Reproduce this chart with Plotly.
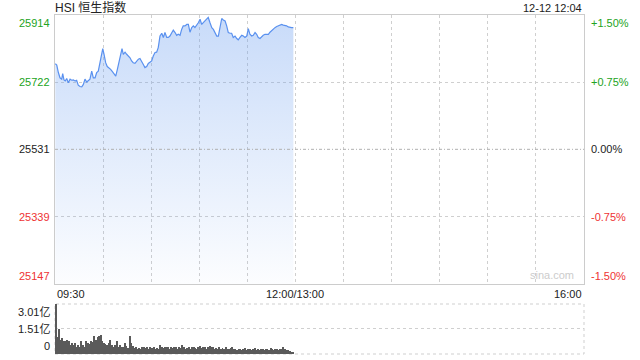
import plotly.graph_objects as go

# ---- data ----
price_min = [0.2,1.1,2.1,3.1,4.2,4.8,5.6,6.4,7.3,8.3,9.4,10.4,11.4,12.5,13.5,14.5,15.6,16.7,17.7,18.7,
             19.8,20.8,21.8,22.9,23.9,25.0,26.0,27.0,28.1,29.1,29.8,30.6,31.6,32.6,33.7,34.7,35.7,36.8,37.9,38.9,
             39.9,41.0,41.8,42.6,43.7,44.7,45.7,46.8,47.8,48.8,49.9,51.0,52.0,53.0,54.1,55.1,56.1,57.2,58.2,59.3,
             60.3,61.3,62.4,63.4,64.4,65.5,66.6,67.6,68.6,69.7,70.7,71.7,72.8,73.8,74.9,75.9,76.9,78.0,79.0,80.0,
             81.1,82.2,83.2,84.2,85.3,86.3,87.3,88.4,89.4,90.5,91.5,92.5,93.6,94.6,95.6,96.7,97.8,98.8,99.8,100.9,
             101.9,102.9,104.0,105.0,106.1,107.1,108.1,109.2,110.2,111.2,112.3,113.4,114.3,115.4,116.5,117.5,118.5,119.6,120.6,121.6,
             122.7,123.7,124.8,125.8,126.8,127.9,128.9,129.9,131.0,132.0,133.1,134.1,135.2,136.2,137.2,138.3,139.3,140.4,141.4,142.4,
             143.5,144.5,145.5,146.6,147.6,148.7]
price_val = [25775,25771,25750,25735,25731,25747,25729,25726,25733,25721,25731,25728,25729,25726,25728,25714,25710,25709,25716,25731,
             25723,25726,25731,25754,25735,25735,25750,25754,25778,25807,25818,25802,25778,25767,25764,25759,25753,25748,25740,25759,
             25778,25807,25818,25802,25808,25802,25797,25792,25783,25778,25776,25783,25788,25790,25783,25773,25764,25767,25776,25780,
             25783,25797,25807,25808,25821,25854,25862,25850,25864,25850,25850,25854,25864,25871,25864,25856,25859,25856,25873,25883,
             25883,25887,25887,25865,25878,25883,25878,25885,25892,25902,25887,25892,25897,25902,25907,25892,25878,25873,25864,25854,
             25854,25883,25904,25900,25897,25883,25864,25862,25862,25850,25854,25847,25843,25850,25856,25854,25850,25854,25875,25859,
             25854,25856,25864,25859,25850,25847,25852,25856,25859,25859,25859,25865,25870,25873,25878,25881,25883,25887,25887,25885,
             25885,25883,25880,25878,25878,25878]

volume = [3.01,1.01,1.48,0.86,0.97,0.80,0.76,0.86,0.76,0.56,0.66,0.56,0.66,0.45,0.56,0.45,0.76,0.56,0.45,0.76,
          0.66,0.62,0.80,0.72,1.07,0.86,1.01,1.07,1.17,0.76,0.66,0.58,0.56,0.66,0.86,0.56,0.45,0.56,0.76,0.45,
          0.52,0.40,0.45,0.66,0.50,0.37,1.07,0.66,0.50,0.37,0.45,0.33,0.37,0.33,0.40,0.45,0.37,0.45,0.33,0.42,
          0.37,0.45,0.33,0.37,0.29,0.56,0.45,0.37,0.45,0.40,0.45,0.33,0.45,0.37,0.45,0.40,0.33,0.45,0.37,0.56,
          0.40,0.33,0.37,0.45,0.33,0.40,0.45,0.37,0.33,0.45,0.50,0.37,0.45,0.40,0.33,0.45,0.50,0.40,0.45,0.33,
          0.37,0.29,0.40,0.33,0.37,0.29,0.40,0.33,0.29,0.37,0.45,0.33,0.29,0.25,0.29,0.33,0.25,0.29,0.37,0.25,
          0.29,0.33,0.25,0.29,0.37,0.25,0.29,0.25,0.33,0.29,0.25,0.33,0.29,0.25,0.37,0.29,0.25,0.33,0.29,0.25,
          0.29,0.33,0.45,0.29,0.25,0.22,0.18,0.15,0.12]
volume_min = [i + 0.5 for i in range(len(volume))]

prev_close = 25531
y_ticks_left = [25914, 25722, 25531, 25339, 25147]
y_ticks_right = ["+1.50%", "+0.75%", "0.00%", "-0.75%", "-1.50%"]
tick_colors = ["#22a322", "#22a322", "#222222", "#ee3333", "#ee3333"]
x_tick_labels = ["09:30", "12:00/13:00", "16:00"]
vol_ticks = [3.01, 1.51, 0]
vol_tick_text = ["3.01亿", "1.51亿", "0"]
title_text = "HSI 恒生指数"
stamp_text = "12-12 12:04"

FONT = "Liberation Sans, Arial, Noto Sans CJK SC, sans-serif"
W, H = 640, 360
L, R = 55, 584
PT, PB = 15, 284
VT, VB = 304, 354

fig = go.Figure()
fig.add_trace(go.Scatter(
    x=price_min, y=price_val, mode="lines",
    line=dict(color="#5a91ef", width=1.2),
    fill="tozeroy",
    fillgradient=dict(type="vertical", start=25147, stop=25914,
                      colorscale=[[0, "rgba(110,160,240,0.02)"], [1, "rgba(110,160,240,0.38)"]]),
    xaxis="x", yaxis="y", hoverinfo="skip", showlegend=False))

fig.add_trace(go.Bar(
    x=volume_min, y=volume, width=0.6, marker=dict(color="#5a5a5a", line=dict(width=0)),
    xaxis="x2", yaxis="y2", hoverinfo="skip", showlegend=False))

fig.update_layout(
    width=W, height=H, margin=dict(l=0, r=0, t=0, b=0),
    paper_bgcolor="white", plot_bgcolor="rgba(0,0,0,0)",
    font=dict(family=FONT, size=11, color="#222"),
    xaxis=dict(domain=[L / W, R / W], range=[0, 330], tickvals=list(range(30, 330, 30)),
               showticklabels=False, ticks="", showgrid=True, gridcolor="#cfcfcf", griddash="dot",
               gridwidth=1, showline=True, linecolor="#cccccc", mirror=True, zeroline=False, fixedrange=True),
    yaxis=dict(domain=[1 - PB / H, 1 - PT / H], range=[25147, 25914], tickvals=[25722, 25339],
               showticklabels=False, ticks="", showgrid=True, gridcolor="#cfcfcf", griddash="dot",
               showline=True, linecolor="#cccccc", mirror=True, zeroline=False),
    xaxis2=dict(domain=[L / W, R / W], range=[0, 330], showticklabels=False, ticks="", showgrid=False,
                zeroline=False, anchor="y2"),
    yaxis2=dict(domain=[1 - VB / H, 1 - VT / H], range=[0, 3.01], tickvals=[1.51], showticklabels=False,
                ticks="", showgrid=True, gridcolor="#cfcfcf", griddash="dot", zeroline=False, anchor="x2"),
    bargap=0,
)

shapes = [
    dict(type="line", xref="x domain", yref="y", x0=0, x1=1, y0=prev_close, y1=prev_close,
         line=dict(color="#b0b0b0", width=1, dash="3px,2px,1px,2px"), layer="above"),
    dict(type="rect", xref="x2 domain", yref="y2 domain", x0=0, x1=1, y0=0, y1=1,
         line=dict(color="#cfcfcf", width=1, dash="dot"), layer="below"),
]
fig.update_layout(shapes=shapes)

ann = []
n = len(y_ticks_left)
for i, (v, rt, c) in enumerate(zip(y_ticks_left, y_ticks_right, tick_colors)):
    ya = "top" if i == 0 else ("bottom" if i == n - 1 else "middle")
    ann.append(dict(x=L / W, xref="paper", xshift=-3, y=v, yref="y", text=str(v), showarrow=False,
                    xanchor="right", yanchor=ya, font=dict(color=c, size=11, family=FONT)))
    ann.append(dict(x=R / W, xref="paper", xshift=5, y=v, yref="y", text=rt, showarrow=False,
                    xanchor="left", yanchor=ya, font=dict(color=c, size=11, family=FONT)))

for i, (v, t) in enumerate(zip(vol_ticks, vol_tick_text)):
    ya = "top" if i == 0 else ("bottom" if i == len(vol_ticks) - 1 else "middle")
    ann.append(dict(x=L / W, xref="paper", xshift=-3, y=v, yref="y2", text=t, showarrow=False,
                    xanchor="right", yanchor=ya, font=dict(color="#222", size=11, family=FONT)))

for xv, t, xa in zip([0, 150, 330], x_tick_labels, ["left", "center", "right"]):
    ann.append(dict(x=xv, xref="x", y=1 - PB / H, yref="paper", yshift=-2, text=t, showarrow=False,
                    xanchor=xa, yanchor="top", font=dict(color="#222", size=11, family=FONT)))

ann.append(dict(x=L / W, xref="paper", y=1 - 7.5 / H, yref="paper", text=title_text,
                showarrow=False, xanchor="left", yanchor="middle", xshift=-2,
                font=dict(color="#222", size=12, family=FONT)))
ann.append(dict(x=R / W, xref="paper", y=1 - 8 / H, yref="paper", text=stamp_text,
                showarrow=False, xanchor="right", yanchor="middle",
                font=dict(color="#222", size=11, family=FONT)))
ann.append(dict(x=(R - 8) / W, xref="paper", y=1 - PB / H, yref="paper", yshift=1, text="sina.com",
                showarrow=False, xanchor="right", yanchor="bottom",
                font=dict(color="#cccccc", size=11, family=FONT)))
fig.update_layout(annotations=ann)

fig.write_html("out.html")
